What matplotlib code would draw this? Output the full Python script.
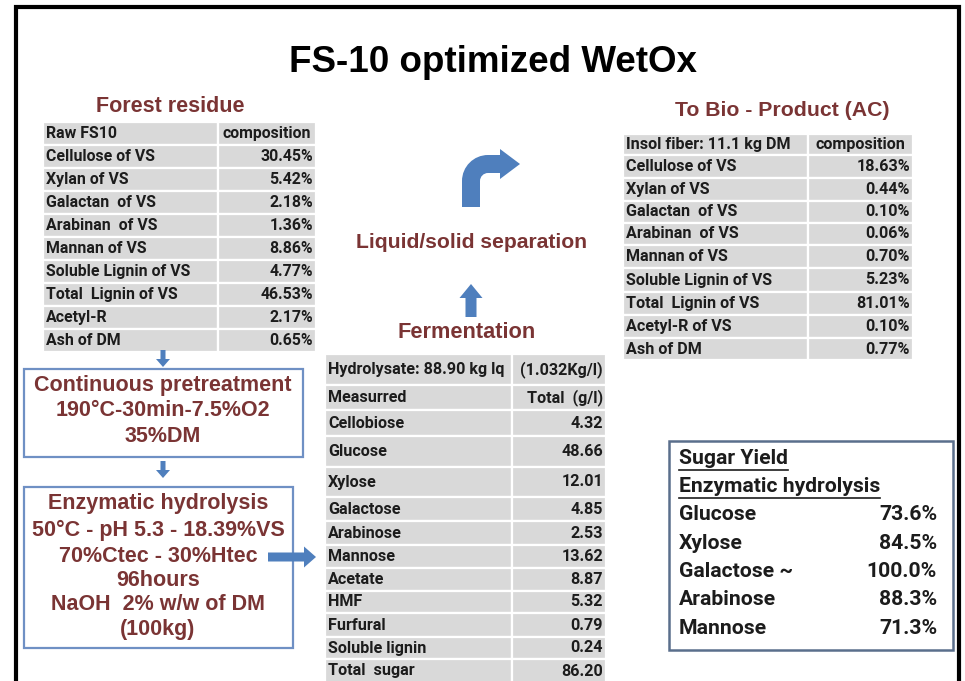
import matplotlib
matplotlib.use("Agg")
import matplotlib.pyplot as plt
from matplotlib.patches import Rectangle, FancyArrow, PathPatch
from matplotlib.path import Path
import numpy as np

# ---- data ----
title = "FS-10 optimized WetOx"

raw_header = ["Raw FS10", "composition"]
raw_labels = ["Cellulose of VS", "Xylan of VS", "Galactan  of VS", "Arabinan  of VS",
              "Mannan of VS", "Soluble Lignin of VS", "Total  Lignin of VS",
              "Acetyl-R", "Ash of DM"]
raw_values = [30.45, 5.42, 2.18, 1.36, 8.86, 4.77, 46.53, 2.17, 0.65]

prod_header = ["Insol fiber: 11.1 kg DM", "composition"]
prod_labels = ["Cellulose of VS", "Xylan of VS", "Galactan  of VS", "Arabinan  of VS",
               "Mannan of VS", "Soluble Lignin of VS", "Total  Lignin of VS",
               "Acetyl-R of VS", "Ash of DM"]
prod_values = [18.63, 0.44, 0.10, 0.06, 0.70, 5.23, 81.01, 0.10, 0.77]

ferm_header = [("Hydrolysate: 88.90 kg lq", "(1.032Kg/l)"), ("Measurred", "Total  (g/l)")]
ferm_labels = ["Cellobiose", "Glucose", "Xylose", "Galactose", "Arabinose", "Mannose",
               "Acetate", "HMF", "Furfural", "Soluble lignin", "Total  sugar"]
ferm_values = [4.32, 48.66, 12.01, 4.85, 2.53, 13.62, 8.87, 5.32, 0.79, 0.24, 86.20]

yield_labels = ["Glucose", "Xylose", "Galactose ~", "Arabinose", "Mannose"]
yield_values = [73.6, 84.5, 100.0, 88.3, 71.3]

pretreat_lines = ["Continuous pretreatment", "190\u00b0C-30min-7.5%O2", "35%DM"]
hydro_lines = ["Enzymatic hydrolysis", "50\u00b0C - pH 5.3 - 18.39%VS", "70%Ctec - 30%Htec",
               "96hours", "NaOH  2% w/w of DM", "(100kg)"]

# ---- style ----
RED = "#7a3434"
BLUE = "#4f7fbd"
GRAY = "#d9d9d9"
INK = "#1c1c1c"
HEAD = ["Liberation Sans", "DejaVu Sans"]
BODY = ["Roboto", "DejaVu Sans"]

W, H = 965, 681
fig = plt.figure(figsize=(W / 100, H / 100), dpi=100)
ax = fig.add_axes([0, 0, 1, 1])
ax.set_xlim(0, W)
ax.set_ylim(H, 0)
ax.axis("off")

# outer frame (bottom edge is cut off)
ax.plot([16, 16, 959, 959], [H + 5, 7, 7, H + 5], color="black", lw=3, solid_joinstyle="miter")

ax.text(493, 63, title, ha="center", va="center", fontsize=26.5, fontweight="bold", family=HEAD)


def draw_table(x0, xs, x1, bounds, rows, fs=11.4, head_center=True):
    """rows: list of (left text, right text); bounds: row edges (top->bottom)."""
    for i, (lt, rt) in enumerate(rows):
        y0, y1 = bounds[i], bounds[i + 1]
        for a, b in [(x0, xs), (xs, x1)]:
            ax.add_patch(Rectangle((a, y0), b - a, y1 - y0, facecolor=GRAY,
                                   edgecolor="white", lw=1.6))
        yc = (y0 + y1) / 2
        ax.text(x0 + 3, yc, lt, ha="left", va="center", fontsize=fs,
                fontweight="bold", color=INK, family=BODY)
        if i == 0 and head_center:
            ax.text((xs + x1) / 2, yc, rt, ha="center", va="center", fontsize=fs,
                    fontweight="bold", color=INK, family=BODY)
        else:
            ax.text(x1 - 3, yc, rt, ha="right", va="center", fontsize=fs,
                    fontweight="bold", color=INK, family=BODY)


# forest residue table
ax.text(170, 107, "Forest residue", ha="center", va="center", fontsize=15.5,
        fontweight="bold", color=RED, family=HEAD)
raw_rows = [tuple(raw_header)] + [(l, f"{v:.2f}%") for l, v in zip(raw_labels, raw_values)]
draw_table(43, 218, 316, np.linspace(122, 352, len(raw_rows) + 1), raw_rows)

# bio-product table
ax.text(782, 110, "To Bio - Product (AC)", ha="center", va="center", fontsize=15.3,
        fontweight="bold", color=RED, family=HEAD)
prod_rows = [tuple(prod_header)] + [(l, f"{v:.2f}%") for l, v in zip(prod_labels, prod_values)]
draw_table(623, 808, 913, [134, 155, 178, 201, 223, 245, 268, 292, 315, 338, 360], prod_rows,
           fs=11.6)

# fermentation table
ax.text(467, 333, "Fermentation", ha="center", va="center", fontsize=15.7,
        fontweight="bold", color=RED, family=HEAD)
ferm_rows = list(ferm_header) + [(l, f"{v:.2f}") for l, v in zip(ferm_labels, ferm_values)]
draw_table(325, 512, 606, [354, 385, 410, 436, 467, 497, 521, 545, 568, 591, 613, 637, 659, 683],
           ferm_rows, fs=11.6, head_center=False)

ax.text(472, 243, "Liquid/solid separation", ha="center", va="center", fontsize=15.2,
        fontweight="bold", color=RED, family=HEAD)

# process boxes
ax.add_patch(Rectangle((24, 369), 279, 88, facecolor="white", edgecolor="#6f90c4", lw=1.6))
for txt, y in zip(pretreat_lines, [385, 411, 436]):
    ax.text(163, y, txt, ha="center", va="center", fontsize=15.5, fontweight="bold",
            color=RED, family=HEAD)
ax.add_patch(Rectangle((24, 487), 269, 161, facecolor="white", edgecolor="#6f90c4", lw=1.6))
for txt, y in zip(hydro_lines, [503, 530, 556, 580, 605, 630]):
    ax.text(158, y, txt, ha="center", va="center", fontsize=15.5, fontweight="bold",
            color=RED, family=HEAD)

# straight block arrows
for x, y, dx, dy, w, hw, hl in [(163, 350, 0, 17, 5, 14, 8), (163, 461, 0, 17, 5, 14, 8),
                                (268, 557, 48, 0, 9, 21, 12), (471, 317, 0, -33, 11, 23, 14)]:
    ax.add_patch(FancyArrow(x, y, dx, dy, width=w, head_width=hw, head_length=hl,
                            length_includes_head=True, color=BLUE, lw=0))

# bent arrow (up then right)
k = 0.5523
verts = [(462, 207), (462, 181),
         (462, 181 - 26 * k), (488 - 26 * k, 155), (488, 155),
         (500, 155), (500, 149), (520, 164), (500, 179), (500, 173), (488, 173),
         (488 - 8 * k, 173), (480, 181 - 8 * k), (480, 181),
         (480, 207), (462, 207)]
codes = [Path.MOVETO, Path.LINETO, Path.CURVE4, Path.CURVE4, Path.CURVE4,
         Path.LINETO, Path.LINETO, Path.LINETO, Path.LINETO, Path.LINETO, Path.LINETO,
         Path.CURVE4, Path.CURVE4, Path.CURVE4, Path.LINETO, Path.CLOSEPOLY]
ax.add_patch(PathPatch(Path(verts, codes), facecolor=BLUE, edgecolor="none"))

# sugar yield box
ax.add_patch(Rectangle((669, 441), 284, 209, facecolor="white", edgecolor="#5a6f8c", lw=1.8))
fig.canvas.draw()
rend = fig.canvas.get_renderer()
inv = ax.transData.inverted()
for txt, y in [("Sugar Yield", 459), ("Enzymatic hydrolysis", 487)]:
    t = ax.text(679, y, txt, ha="left", va="center", fontsize=15.2, fontweight="bold",
                color=INK, family=BODY)
    bb = t.get_window_extent(rend)
    (xa, _), (xb, _) = inv.transform([(bb.x0, bb.y0), (bb.x1, bb.y0)])
    ax.plot([xa, xb], [y + 11, y + 11], color=INK, lw=1.2)
for i, (l, v) in enumerate(zip(yield_labels, yield_values)):
    y = 515 + i * 28.3
    ax.text(679, y, l, ha="left", va="center", fontsize=15.2, fontweight="bold",
            color=INK, family=BODY)
    ax.text(937, y, f"{v:.1f}%", ha="right", va="center", fontsize=15.2, fontweight="bold",
            color=INK, family=BODY)

fig.savefig("out.png", dpi=100)
plt.close(fig)
